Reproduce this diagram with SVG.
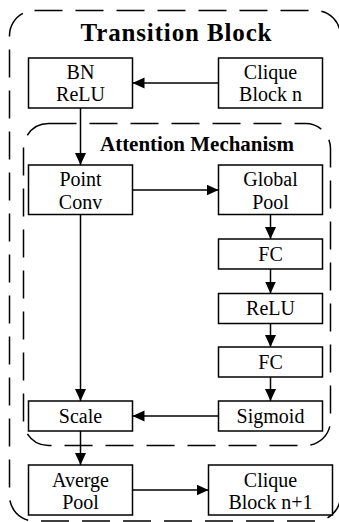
<svg xmlns="http://www.w3.org/2000/svg" width="339" height="522" viewBox="0 0 339 522">
<style>
.box{fill:#fff;stroke:#000;stroke-width:1.5}
.grp{fill:none;stroke:#000;stroke-width:1.5;stroke-dasharray:28 13}
.t{font-family:"Liberation Serif","Times New Roman",serif;font-size:20px;fill:#000;text-anchor:middle}
.h{font-family:"Liberation Serif","Times New Roman",serif;font-weight:bold;fill:#000;text-anchor:middle}
.c{fill:none;stroke:#000;stroke-width:1.5;marker-end:url(#ah)}
</style>
<defs>
<marker id="ah" markerUnits="userSpaceOnUse" markerWidth="13" markerHeight="12" refX="12" refY="5.5" orient="auto">
<path d="M0,0 L12,5.5 L0,11 z" fill="#000"/>
</marker>
</defs>
<g id="transition-block">
<rect class="grp" x="9.5" y="10.5" width="331" height="510.5" rx="25" ry="25"/>
<text class="h" x="176" y="41" font-size="25" textLength="191" lengthAdjust="spacing">Transition Block</text>
</g>
<g id="attention-mechanism">
<rect class="grp" x="23.5" y="123.5" width="307" height="322" rx="25" ry="25"/>
<text class="h" x="197" y="150.5" font-size="21" textLength="194" lengthAdjust="spacing">Attention Mechanism</text>
</g>
<g id="connectors">
<line class="c" x1="218.5" y1="83" x2="132.5" y2="83"/>
<line class="c" x1="80.5" y1="108" x2="80.5" y2="165"/>
<line class="c" x1="132.5" y1="190" x2="218.5" y2="190"/>
<line class="c" x1="270.5" y1="214.5" x2="270.5" y2="239"/>
<line class="c" x1="270.5" y1="269" x2="270.5" y2="293.5"/>
<line class="c" x1="270.5" y1="323.5" x2="270.5" y2="347"/>
<line class="c" x1="270.5" y1="377" x2="270.5" y2="401"/>
<line class="c" x1="218.5" y1="416" x2="132.5" y2="416"/>
<line class="c" x1="80.5" y1="214.5" x2="80.5" y2="401"/>
<line class="c" x1="80.5" y1="431" x2="80.5" y2="465"/>
<line class="c" x1="132.5" y1="490" x2="208.5" y2="490"/>
</g>
<g id="bn-relu">
<rect class="box" x="28.5" y="58" width="104" height="50"/>
<text class="t" x="80.5" y="79">BN</text>
<text class="t" x="80.5" y="101">ReLU</text>
</g>
<g id="clique-block-n">
<rect class="box" x="218.5" y="58" width="104" height="50"/>
<text class="t" x="270.5" y="79">Clique</text>
<text class="t" x="270.5" y="101">Block n</text>
</g>
<g id="point-conv">
<rect class="box" x="28.5" y="165" width="104" height="49.5"/>
<text class="t" x="80.5" y="186">Point</text>
<text class="t" x="80.5" y="209">Conv</text>
</g>
<g id="global-pool">
<rect class="box" x="218.5" y="165" width="104" height="49.5"/>
<text class="t" x="270.5" y="186">Global</text>
<text class="t" x="270.5" y="209">Pool</text>
</g>
<g id="fc1">
<rect class="box" x="218.5" y="239" width="104" height="30"/>
<text class="t" x="270.5" y="260.5">FC</text>
</g>
<g id="relu">
<rect class="box" x="218.5" y="293.5" width="104" height="30"/>
<text class="t" x="270.5" y="315">ReLU</text>
</g>
<g id="fc2">
<rect class="box" x="218.5" y="347" width="104" height="30"/>
<text class="t" x="270.5" y="368.5">FC</text>
</g>
<g id="sigmoid">
<rect class="box" x="218.5" y="401" width="104" height="30"/>
<text class="t" x="270.5" y="422.5">Sigmoid</text>
</g>
<g id="scale">
<rect class="box" x="28.5" y="401" width="104" height="30"/>
<text class="t" x="80.5" y="422.5">Scale</text>
</g>
<g id="averge-pool">
<rect class="box" x="28.5" y="465" width="104" height="50"/>
<text class="t" x="80.5" y="486.5">Averge</text>
<text class="t" x="80.5" y="509">Pool</text>
</g>
<g id="clique-block-n1">
<rect class="box" x="208.5" y="465" width="124" height="50"/>
<text class="t" x="270.5" y="486.5">Clique</text>
<text class="t" x="270.5" y="509">Block n+1</text>
</g>
</svg>
